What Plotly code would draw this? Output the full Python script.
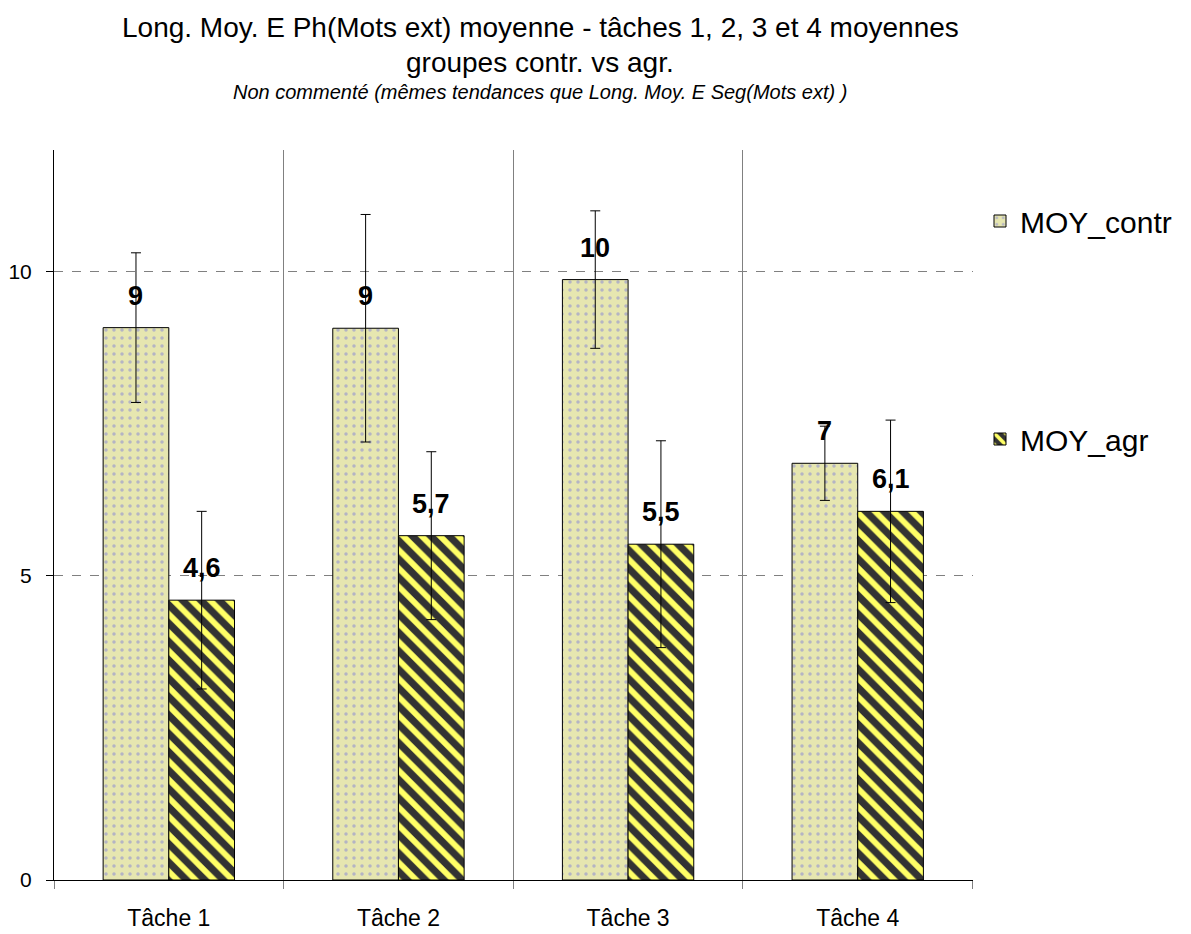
import plotly.graph_objects as go

categories = ["Tâche 1", "Tâche 2", "Tâche 3", "Tâche 4"]
moy_contr = [9.08, 9.07, 9.87, 6.85]
moy_agr = [4.60, 5.66, 5.52, 6.06]
err_contr = [1.23, 1.87, 1.13, 0.61]
err_agr = [1.46, 1.38, 1.70, 1.50]
labels_contr = ["9", "9", "10", "7"]
labels_agr = ["4,6", "5,7", "5,5", "6,1"]
y_ticks = [0, 5, 10]

FONT = "Liberation Sans, Arial, sans-serif"
BARGAP = 0.428
x = list(range(len(categories)))

# page offset (body margin) = 8 px
W, H = 1183, 926
ML, MR, MT, MB = 46, 218, 142, 54
PW, PH = W - ML - MR, H - MT - MB


def px_x(page_x):
    return (page_x - 8 - ML) / PW


def px_y(page_y):
    return (H - MB - (page_y - 8)) / PH


fig = go.Figure()
fig.add_trace(go.Bar(
    name="MOY_contr", x=x, y=moy_contr, legendgroup="a",
    marker=dict(color="#e6e6b0", line=dict(color="black", width=1),
                pattern=dict(shape=".", fgcolor="#b4b4c4", bgcolor="#e6e6b0",
                             size=8, solidity=0.15, fgopacity=1)),
    error_y=dict(type="data", array=err_contr, color="black", thickness=1, width=5),
))
fig.add_trace(go.Bar(
    name="MOY_agr", x=x, y=moy_agr, legendgroup="b",
    marker=dict(color="#333333", line=dict(color="black", width=1),
                pattern=dict(shape="\\", fgcolor="#ffff66", bgcolor="#333333",
                             size=13, solidity=0.45, fgopacity=1)),
    error_y=dict(type="data", array=err_agr, color="black", thickness=1, width=5),
))

half = (1 - BARGAP) / 4
annotations = []
for i in x:
    annotations.append(dict(x=i - half, y=moy_contr[i], text="<b>" + labels_contr[i] + "</b>",
                            showarrow=False, xref="x", yref="y", yanchor="middle", yshift=32,
                            font=dict(family=FONT, size=27, color="black")))
    annotations.append(dict(x=i + half, y=moy_agr[i], text="<b>" + labels_agr[i] + "</b>",
                            showarrow=False, xref="x", yref="y", yanchor="middle", yshift=32,
                            font=dict(family=FONT, size=27, color="black")))

title_x = px_x(540)
annotations += [
    dict(text="Long. Moy. E Ph(Mots ext) moyenne - tâches 1, 2, 3 et 4 moyennes",
         x=title_x, y=px_y(27), xref="paper", yref="paper", showarrow=False, yanchor="middle",
         font=dict(family=FONT, size=28, color="black")),
    dict(text="groupes contr. vs agr.",
         x=title_x, y=px_y(62), xref="paper", yref="paper", showarrow=False, yanchor="middle",
         font=dict(family=FONT, size=28, color="black")),
    dict(text="<i>Non commenté (mêmes tendances que Long. Moy. E Seg(Mots ext) )</i>",
         x=title_x, y=px_y(92), xref="paper", yref="paper", showarrow=False, yanchor="middle",
         font=dict(family=FONT, size=20, color="black")),
]

fig.update_layout(
    width=W, height=H,
    margin=dict(l=ML, r=MR, t=MT, b=MB, autoexpand=False),
    paper_bgcolor="white", plot_bgcolor="white",
    barmode="group", bargap=BARGAP, bargroupgap=0,
    font=dict(family=FONT, color="black"),
    showlegend=True,
    legend=dict(x=px_x(980), xanchor="left", y=px_y(195), yanchor="top",
                font=dict(family=FONT, size=30, color="black"),
                tracegroupgap=176, bgcolor="rgba(0,0,0,0)"),
    annotations=annotations,
    xaxis=dict(range=[-0.5, 3.502], tickvals=x, ticktext=categories, ticks="",
               automargin=False,
               showgrid=False, zeroline=False, showline=True, linecolor="black", linewidth=1,
               ticklabelstandoff=17,
               tickfont=dict(family=FONT, size=23, color="black"),
               minor=dict(tick0=0.5, dtick=1, showgrid=True, gridcolor="#808080", gridwidth=1,
                          ticks="outside", ticklen=8, tickcolor="#808080")),
    yaxis=dict(range=[0, 12], tickvals=y_ticks, showgrid=True, griddash="dash",
               automargin=False,
               gridcolor="#808080", gridwidth=1, zeroline=False,
               showline=True, linecolor="black", linewidth=1,
               ticks="outside", ticklen=7, tickcolor="black",
               ticklabelstandoff=10,
               tickfont=dict(family=FONT, size=21, color="black")),
)

fig.write_html("out.html")
